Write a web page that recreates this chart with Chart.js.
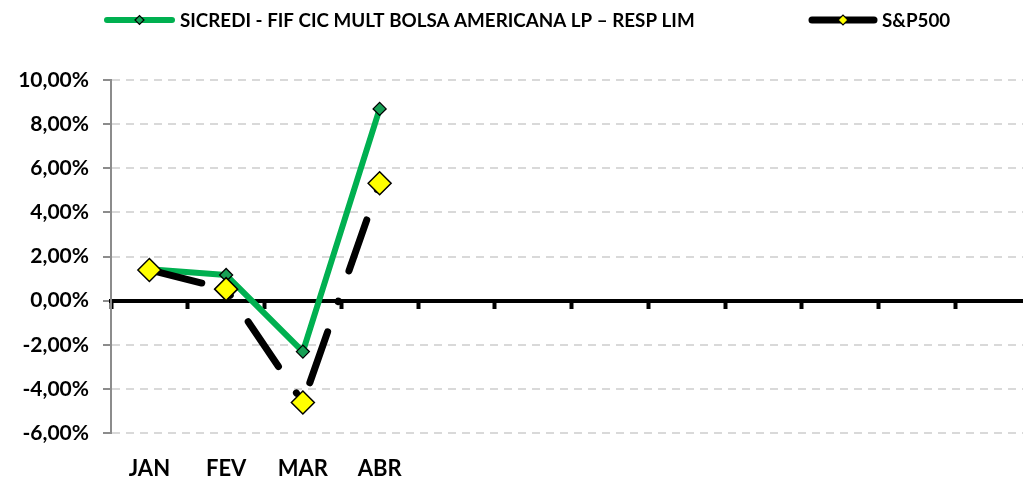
<!DOCTYPE html>
<html>
<head>
<meta charset="utf-8">
<script src="https://cdn.jsdelivr.net/npm/chart.js@4"></script>
<style>
  html, body { margin: 0; padding: 0; background: #fff; overflow: hidden; }
</style>
</head>
<body>
<canvas id="retornoChart" width="1045" height="478"></canvas>
<script>
const meses = ['JAN', 'FEV', 'MAR', 'ABR', '', '', '', '', '', '', '', ''];
const sicredi = [1.42, 1.16, -2.31, 8.69];
const sp500 = [1.39, 0.52, -4.62, 5.32];
const nomeFundo = 'SICREDI - FIF CIC MULT BOLSA AMERICANA LP – RESP LIM';
const nomeIndice = 'S&P500';

const VERDE = '#00B050';
const FONTE = 'Lato, "Open Sans", sans-serif';

function formataPct(v) {
    return v.toFixed(2).replace('.', ',') + '%';
}

// legenda desenhada à mão: linha com o marcador no meio + nome em negrito
const legendaPlugin = {
    id: 'legenda',
    afterDraw(chart) {
        const ctx = chart.ctx;
        const itens = [
            { x: 107, w: 65, cor: VERDE, lw: 6, fill: '#17A055', r: 4.5, texto: nomeFundo },
            { x: 812, w: 62, cor: '#000', lw: 7, fill: '#FFFF00', r: 5, texto: nomeIndice }
        ];
        const y = 20;
        ctx.save();
        itens.forEach(it => {
            ctx.beginPath();
            ctx.lineCap = 'round';
            ctx.lineWidth = it.lw;
            ctx.strokeStyle = it.cor;
            ctx.moveTo(it.x, y);
            ctx.lineTo(it.x + it.w, y);
            ctx.stroke();

            const cx = it.x + it.w / 2;
            ctx.beginPath();
            ctx.moveTo(cx - it.r, y);
            ctx.lineTo(cx, y - it.r);
            ctx.lineTo(cx + it.r, y);
            ctx.lineTo(cx, y + it.r);
            ctx.closePath();
            ctx.fillStyle = it.fill;
            ctx.fill();
            ctx.lineWidth = 1.2;
            ctx.strokeStyle = '#000';
            ctx.stroke();

            ctx.fillStyle = '#000';
            ctx.font = 'bold 18.8px ' + FONTE;
            ctx.textBaseline = 'middle';
            ctx.textAlign = 'left';
            ctx.fillText(it.texto, it.x + it.w + 8, y + 1);
        });
        ctx.restore();
    }
};

const ctx = document.getElementById('retornoChart').getContext('2d');

new Chart(ctx, {
    type: 'line',
    data: {
        labels: meses,
        datasets: [
            {
                label: nomeFundo,
                data: sicredi,
                borderColor: VERDE,
                borderWidth: 6,
                borderJoinStyle: 'round',
                pointStyle: 'rectRot',
                pointRadius: 6.5,
                pointBackgroundColor: '#17A055',
                pointBorderColor: '#000',
                pointBorderWidth: 1.3,
                tension: 0,
                order: 1
            },
            {
                label: nomeIndice,
                data: sp500,
                borderColor: '#000',
                borderWidth: 7,
                borderCapStyle: 'round',
                borderDash: [54, 32, 0.5, 32],
                pointStyle: 'rectRot',
                pointRadius: 11.5,
                pointBackgroundColor: '#FFFF00',
                pointBorderColor: '#000',
                pointBorderWidth: 1.5,
                tension: 0,
                order: 0
            }
        ]
    },
    options: {
        responsive: false,
        animation: false,
        layout: { padding: { left: 17, top: 80, right: 10, bottom: 0 } },
        plugins: {
            legend: { display: false },
            tooltip: { enabled: false }
        },
        scales: {
            x: {
                type: 'category',
                offset: true,
                grid: { display: false },
                border: { display: false },
                ticks: {
                    color: '#000',
                    padding: 15,
                    maxRotation: 0,
                    autoSkip: false,
                    font: { family: FONTE, size: 22, weight: 'bold' }
                },
                afterFit(scale) { scale.height = 45; }
            },
            // linha do zero com as marcas entre os meses
            xZero: {
                type: 'category',
                labels: meses,
                offset: true,
                position: { y: 0 },
                grid: {
                    display: true,
                    drawOnChartArea: false,
                    drawTicks: true,
                    offset: true,
                    tickLength: 6,
                    tickWidth: 4,
                    tickColor: '#000'
                },
                border: { display: true, color: '#000', width: 4 },
                ticks: { display: false }
            },
            y: {
                min: -6,
                max: 10,
                ticks: {
                    stepSize: 2,
                    color: '#000',
                    padding: 14,
                    font: { family: FONTE, size: 21, weight: 'bold' },
                    callback: v => formataPct(v)
                },
                grid: {
                    color: c => (c.tick && c.tick.value === 0) ? 'rgba(0,0,0,0)' : '#D9D9D9',
                    lineWidth: 2,
                    tickBorderDash: [],
                    tickColor: '#8C8C8C',
                    tickLength: 8,
                    tickWidth: 2
                },
                // no v4 o tracejado das linhas de grade fica em border.dash
                border: { display: true, color: '#8C8C8C', width: 2, dash: [8, 6] },
                afterFit(scale) { scale.width = 94; }
            }
        }
    },
    plugins: [legendaPlugin]
});
</script>
</body>
</html>
